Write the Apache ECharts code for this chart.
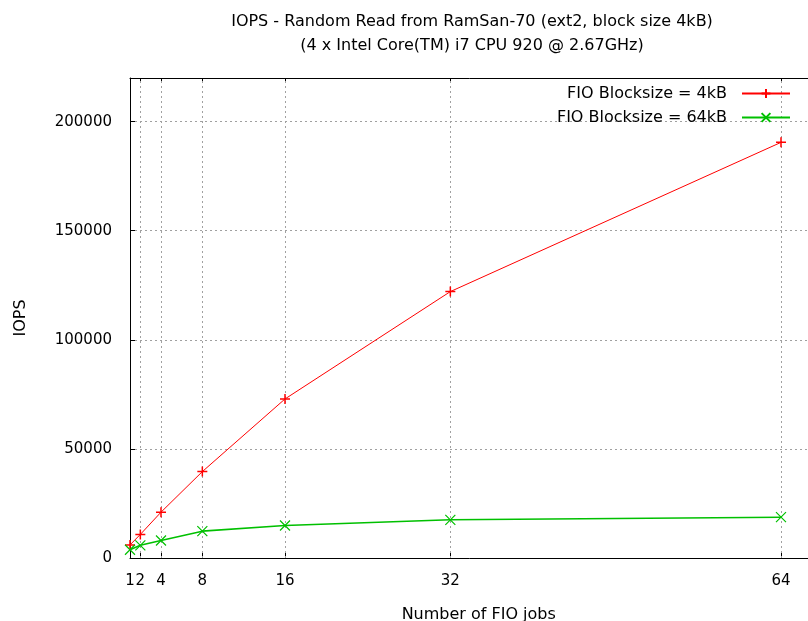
<!DOCTYPE html>
<html>
<head>
<meta charset="utf-8">
<script src="https://cdn.jsdelivr.net/npm/echarts@6/dist/echarts.min.js"></script>
<style>
html,body{margin:0;padding:0;background:#fff;}
#chart{width:808px;height:621px;}
</style>
</head>
<body>
<div id="chart"></div>
<script>
const jobs = [1, 2, 4, 8, 16, 32, 64];
const iops4k = [6000, 10800, 21000, 39600, 72900, 122100, 190500];
const iops64k = [3800, 5800, 8000, 12300, 14900, 17500, 18700];

const FONT = 'DejaVu Sans';
const gridColor = '#a0a0a0';
const plusPath = 'path://M0,5L10,5M5,0L5,10';
const crossPath = 'path://M0,0L10,10M10,0L0,10';

const chart = echarts.init(document.getElementById('chart'));
chart.setOption({
  animation: false,
  backgroundColor: '#ffffff',
  title: {
    text: 'IOPS - Random Read from RamSan-70 (ext2, block size 4kB)\n(4 x Intel Core(TM) i7 CPU 920 @ 2.67GHz)',
    left: 467,
    top: 5,
    textAlign: 'center',
    textStyle: {fontFamily: FONT, fontSize: 16, fontWeight: 'normal', color: '#000', lineHeight: 24}
  },
  grid: {left: 130, top: 78, right: -19.5, bottom: 63, outerBoundsMode: 'none', containLabel: false,
         show: false},
  legend: {
    orient: 'vertical',
    right: 12,
    top: 79,
    align: 'right',
    itemWidth: 48,
    itemHeight: 11,
    itemGap: 5,
    textStyle: {fontFamily: FONT, fontSize: 16, color: '#000', padding: [0, 10, 0, 0], lineHeight: 19},
    data: ['FIO Blocksize = 4kB', 'FIO Blocksize = 64kB']
  },
  xAxis: [{
    type: 'value',
    min: 1,
    max: 68.5,
    name: 'Number of FIO jobs',
    nameLocation: 'middle',
    nameGap: 49,
    nameTextStyle: {fontFamily: FONT, fontSize: 16, color: '#000'},
    axisLine: {show: true, onZero: false, lineStyle: {color: '#000', width: 1}},
    axisTick: {show: true, inside: true, length: 5, customValues: jobs, lineStyle: {color: '#000'}},
    axisLabel: {customValues: jobs, fontFamily: FONT, fontSize: 15, color: '#000', margin: 16},
    splitLine: {show: false}
  }, {
    type: 'value',
    position: 'top',
    min: 1,
    max: 68.5,
    axisLine: {show: true, onZero: false, lineStyle: {color: '#000', width: 1}},
    axisTick: {show: true, inside: true, length: 5, customValues: jobs, lineStyle: {color: '#000'}},
    axisLabel: {show: false},
    splitLine: {show: false}
  }],
  yAxis: {
    type: 'value',
    min: 0,
    max: 220000,
    interval: 50000,
    name: 'IOPS',
    nameLocation: 'middle',
    nameGap: 101,
    nameRotate: 90,
    nameTextStyle: {fontFamily: FONT, fontSize: 16, color: '#000'},
    axisLine: {show: true, lineStyle: {color: '#000', width: 1}},
    axisTick: {show: true, inside: true, length: 5, lineStyle: {color: '#000'}},
    axisLabel: {fontFamily: FONT, fontSize: 15, color: '#000', margin: 18, showMaxLabel: false,
                formatter: v => (v % 50000 === 0 ? String(v) : '')},
    splitLine: {show: true, showMaxLine: false, lineStyle: {color: gridColor, type: [2, 3], width: 1}}
  },
  series: [{
    name: 'FIO Blocksize = 4kB',
    type: 'line',
    data: jobs.map((j, i) => [j, iops4k[i]]),
    symbol: plusPath,
    symbolSize: 10,
    showAllSymbol: true,
    color: '#ff0000',
    lineStyle: {color: '#ff0000', width: 1},
    itemStyle: {color: '#ff0000', borderColor: '#ff0000', borderWidth: 1.5},
    z: 3,
    markLine: {
      silent: true,
      symbol: 'none',
      label: {show: false},
      z: 1,
      lineStyle: {color: gridColor, type: [2, 3], width: 1},
      data: jobs.slice(1).map(v => ({xAxis: v}))
    }
  }, {
    name: 'FIO Blocksize = 64kB',
    type: 'line',
    data: jobs.map((j, i) => [j, iops64k[i]]),
    symbol: crossPath,
    symbolSize: 10,
    showAllSymbol: true,
    color: '#00c000',
    lineStyle: {color: '#00c000', width: 1.6},
    itemStyle: {color: '#00c000', borderColor: '#00c000', borderWidth: 1.2},
    z: 3
  }]
});
</script>
</body>
</html>
